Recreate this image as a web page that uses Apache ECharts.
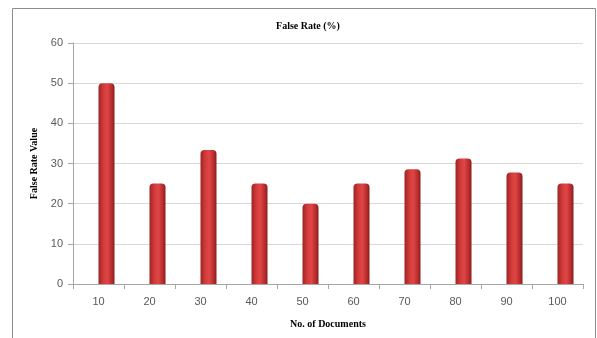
<!DOCTYPE html>
<html>
<head>
<meta charset="utf-8">
<script src="https://cdn.jsdelivr.net/npm/echarts@6/dist/echarts.min.js"></script>
<style>
  html, body { margin: 0; padding: 0; background: #ffffff; }
  #chart { width: 597px; height: 338px; }
</style>
</head>
<body>
<div id="chart"></div>
<script>
// Number of documents on the x axis
const documents = ['10', '20', '30', '40', '50', '60', '70', '80', '90', '100'];
// False rate (%) for each document count
const falseRate = [50, 25, 33.33, 25, 20, 25, 28.57, 31.25, 27.78, 25];
// Empty companion series that keeps the bars in the right half of each slot
const spacer = documents.map(() => '-');

const chart = echarts.init(document.getElementById('chart'), null, { renderer: 'canvas' });

const barFill = new echarts.graphic.LinearGradient(0, 0, 1, 0, [
  { offset: 0, color: '#9a2424' },
  { offset: 0.3, color: '#d43a3a' },
  { offset: 0.55, color: '#de4646' },
  { offset: 0.85, color: '#b42a2a' },
  { offset: 1, color: '#861c1c' }
]);

const serifBold = { fontFamily: 'Liberation Serif', fontWeight: 'bold', fontSize: 10, color: '#000' };

chart.setOption({
  animation: false,
  backgroundColor: '#ffffff',
  title: {
    text: 'False Rate (%)',
    left: 303,
    top: 16,
    textAlign: 'center',
    textStyle: serifBold
  },
  graphic: [{
    type: 'rect',
    shape: { x: 12.5, y: 8.5, width: 583, height: 340 },
    style: { fill: 'none', stroke: '#8c8c8c', lineWidth: 1 },
    silent: true
  }],
  grid: { left: 73, right: 14, top: 43, bottom: 54, containLabel: false },
  xAxis: {
    type: 'category',
    data: documents,
    name: 'No. of Documents',
    nameLocation: 'middle',
    nameGap: 35,
    nameTextStyle: serifBold,
    axisLine: { lineStyle: { color: '#a6a6a6' } },
    axisTick: { show: true, length: 5, alignWithLabel: false, lineStyle: { color: '#a6a6a6' } },
    axisLabel: { color: '#595959', fontSize: 11, fontFamily: 'Liberation Sans', margin: 12 },
    splitLine: { show: false }
  },
  yAxis: {
    type: 'value',
    min: 0,
    max: 60,
    interval: 10,
    name: 'False Rate Value',
    nameLocation: 'middle',
    nameGap: 33,
    nameTextStyle: serifBold,
    axisLine: { show: true, lineStyle: { color: '#a6a6a6' } },
    axisTick: { show: true, length: 5, lineStyle: { color: '#a6a6a6' } },
    axisLabel: { color: '#595959', fontSize: 11, fontFamily: 'Liberation Sans', margin: 10 },
    splitLine: { lineStyle: { color: '#d9d9d9' } }
  },
  series: [
    {
      type: 'bar',
      data: spacer,
      barWidth: 16,
      barGap: '0%'
    },
    {
      type: 'bar',
      data: falseRate,
      barWidth: 16,
      barGap: '0%',
      itemStyle: {
        color: barFill,
        borderRadius: [4, 4, 0, 0]
      }
    }
  ]
});
</script>
</body>
</html>
